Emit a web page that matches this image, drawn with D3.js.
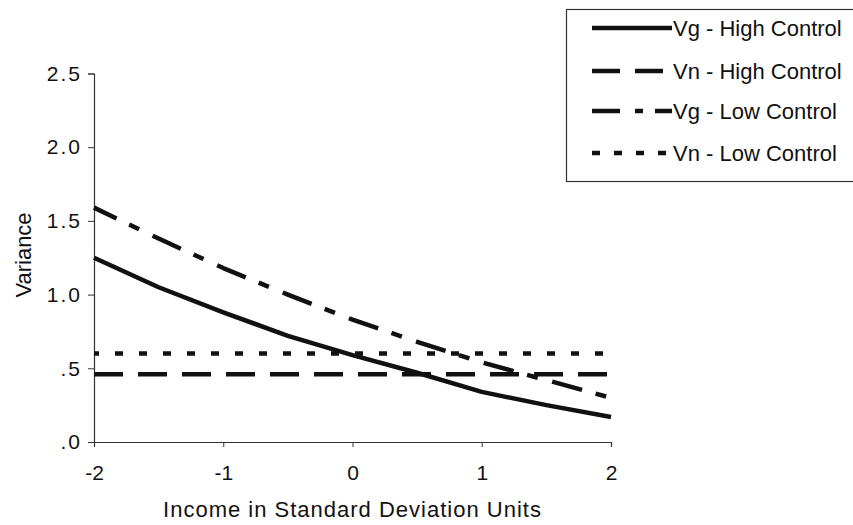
<!DOCTYPE html>
<html>
<head>
<meta charset="utf-8">
<script src="https://cdn.jsdelivr.net/npm/d3@7"></script>
<style>
  html, body { margin: 0; padding: 0; background: #fff; }
  svg { display: block; font-family: "Liberation Sans", Arial, Helvetica, sans-serif; }
</style>
</head>
<body>
<svg id="chart" width="853" height="525"></svg>
<script>
// ---- data ----
const incomeSD = [-2, -1.5, -1, -0.5, 0, 0.5, 1, 1.5, 2];
const vgHigh   = [1.25, 1.05, 0.88, 0.72, 0.59, 0.47, 0.34, 0.25, 0.17];
const vnHigh   = [0.46, 0.46, 0.46, 0.46, 0.46, 0.46, 0.46, 0.46, 0.46];
const vgLow    = [1.59, 1.38, 1.18, 1.00, 0.83, 0.68, 0.54, 0.42, 0.30];
const vnLow    = [0.60, 0.60, 0.60, 0.60, 0.60, 0.60, 0.60, 0.60, 0.60];
const seriesNames = ["Vg - High Control", "Vn - High Control", "Vg - Low Control", "Vn - Low Control"];
const xTicks = [-2, -1, 0, 1, 2];
const xTickLabels = ["-2", "-1", "0", "1", "2"];
const yTicks = [0, 0.5, 1.0, 1.5, 2.0, 2.5];
const yTickLabels = [".0", ".5", "1.0", "1.5", "2.0", "2.5"];
const xTitle = "Income in Standard Deviation Units";
const yTitle = "Variance";

// ---- styles ----
const styles = [
  { dash: null,            offset: 0 },
  { dash: "29,15",         offset: 0 },
  { dash: "31,14,11,15",   offset: 6 },
  { dash: "8,16",          offset: 3 }
];
const legendDash = [null, "28,15", "28,15,8,12", "8,14"];

const svg = d3.select("#chart");
const x = d3.scaleLinear().domain([-2, 2]).range([94, 611]);
const y = d3.scaleLinear().domain([0, 2.5]).range([442, 73.5]);

// axes
const xAxis = d3.axisBottom(x).tickValues(xTicks).tickSize(5).tickFormat((d, i) => xTickLabels[i]);
const gx = svg.append("g").attr("transform", "translate(0,442)").call(xAxis);
gx.select(".domain").attr("stroke", "#333").attr("stroke-width", 1.2);
gx.selectAll(".tick line").attr("stroke", "#333");
gx.selectAll(".tick text").attr("font-size", 21).attr("fill", "#111")
  .attr("dy", null).attr("y", 38).attr("font-family", "Liberation Sans, Arial, sans-serif");

const yAxis = d3.axisLeft(y).tickValues(yTicks).tickSize(6).tickFormat((d, i) => yTickLabels[i]);
const gy = svg.append("g").attr("transform", "translate(94,0)").call(yAxis);
gy.select(".domain").attr("stroke", "#333").attr("stroke-width", 1.2);
gy.selectAll(".tick line").attr("stroke", "#333");
gy.selectAll(".tick text").attr("font-size", 21).attr("fill", "#111")
  .attr("x", -12).attr("font-family", "Liberation Sans, Arial, sans-serif")
  .style("letter-spacing", "2px");

// titles
svg.append("text").attr("x", x(0)).attr("y", 517).attr("text-anchor", "middle")
  .attr("font-size", 22).attr("fill", "#111").style("letter-spacing", "1px").text(xTitle);
svg.append("text").attr("transform", "translate(31,255) rotate(-90)").attr("text-anchor", "middle")
  .attr("font-size", 22).attr("fill", "#111").text(yTitle);

// lines
const allSeries = [vgHigh, vnHigh, vgLow, vnLow];
const line = d3.line().x((d, i) => x(incomeSD[i])).y(d => y(d)).curve(d3.curveLinear);
allSeries.forEach((s, k) => {
  const p = svg.append("path").datum(s).attr("d", line)
    .attr("fill", "none").attr("stroke", "#111").attr("stroke-width", 4.5)
    .attr("stroke-linejoin", "round");
  if (styles[k].dash) p.attr("stroke-dasharray", styles[k].dash).attr("stroke-dashoffset", styles[k].offset);
});

// legend
const lg = svg.append("g");
lg.append("rect").attr("x", 566.5).attr("y", 9.5).attr("width", 300).attr("height", 172)
  .attr("fill", "#fff").attr("stroke", "#333").attr("stroke-width", 1.2);
const rowY = [36, 79, 119, 161];
seriesNames.forEach((name, k) => {
  const cy = rowY[k] - 8;
  const l = lg.append("line").attr("x1", 592).attr("x2", 672).attr("y1", cy).attr("y2", cy)
    .attr("stroke", "#111").attr("stroke-width", 4.5);
  if (legendDash[k]) l.attr("stroke-dasharray", legendDash[k]);
  lg.append("text").attr("x", 673).attr("y", rowY[k]).attr("font-size", 22).attr("fill", "#111").text(name);
});
</script>
</body>
</html>
